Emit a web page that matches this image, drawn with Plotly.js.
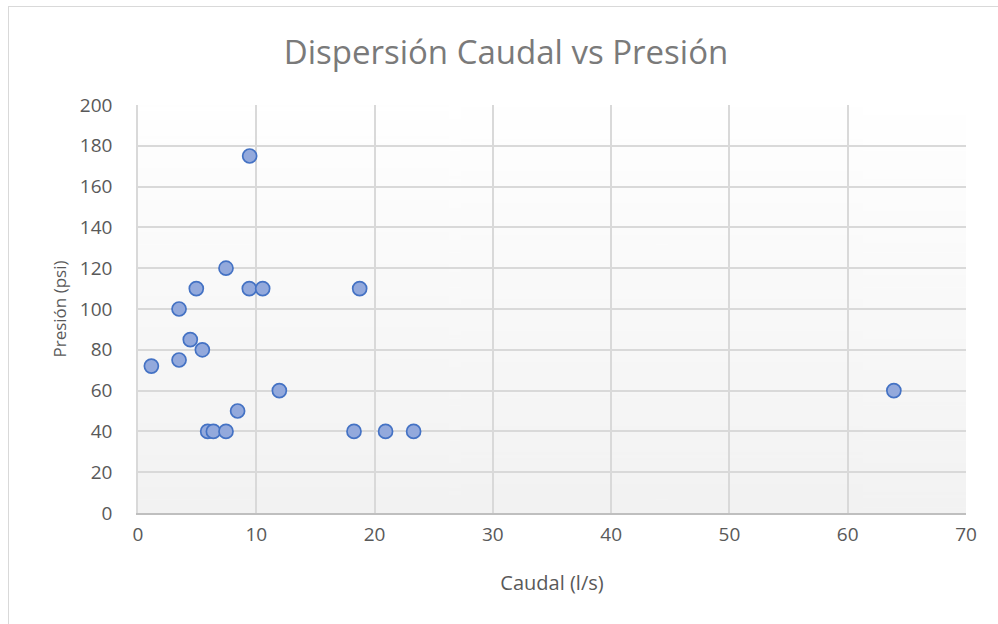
<!DOCTYPE html>
<html>
<head>
<meta charset="utf-8">
<script src="https://cdn.plot.ly/plotly-3.0.1.min.js"></script>
<style>
  html, body { margin: 0; padding: 0; background: #ffffff; }
  #frame { position: absolute; left: 8px; top: 6px; width: 1000px; height: 630px; border: 1px solid #d9d9d9; box-sizing: border-box; }
  #chart { position: absolute; left: 0; top: 0; width: 998px; height: 624px; }
</style>
</head>
<body>
<div id="frame"></div>
<div id="chart"></div>
<script>
var caudal = [9.44, 7.44, 4.93, 9.41, 10.54, 18.74, 3.47, 4.42, 5.44, 3.47, 1.13, 11.95, 8.42, 5.89, 6.37, 7.44, 18.26, 20.93, 23.3, 63.9];
var presion = [175, 120, 110, 110, 110, 110, 100, 85, 80, 75, 72, 60, 50, 40, 40, 40, 40, 40, 40, 60];
var xTicks = [0, 10, 20, 30, 40, 50, 60, 70];
var yTicks = [0, 20, 40, 60, 80, 100, 120, 140, 160, 180, 200];

function gradientURL() {
  var c = document.createElement('canvas');
  c.width = 4; c.height = 256;
  var g = c.getContext('2d');
  var grd = g.createLinearGradient(0, 0, 0, 256);
  grd.addColorStop(0, '#ffffff');
  grd.addColorStop(1, '#f2f2f2');
  g.fillStyle = grd;
  g.fillRect(0, 0, 4, 256);
  return c.toDataURL('image/png');
}

var font = '"Open Sans", "Noto Sans", sans-serif';

var trace = {
  x: caudal, y: presion, type: 'scatter', mode: 'markers',
  marker: { size: 14, color: '#93a9dc', line: { color: '#4472c4', width: 1.7 } },
  hoverinfo: 'x+y'
};

var layout = {
  width: 998, height: 624,
  margin: { l: 138, r: 32, t: 105, b: 111, pad: 0 },
  paper_bgcolor: 'rgba(0,0,0,0)',
  plot_bgcolor: 'rgba(0,0,0,0)',
  showlegend: false,
  title: { text: 'Dispersión Caudal vs Presión', x: 506/998, xref: 'container', xanchor: 'center', y: 1 - 52/624, yref: 'container', yanchor: 'middle',
           font: { family: font, size: 33, color: '#7a7a7a' } },
  images: [{ source: gradientURL(), xref: 'paper', yref: 'paper', x: 0, y: 1, sizex: 1, sizey: 1,
             xanchor: 'left', yanchor: 'top', sizing: 'stretch', layer: 'below' }],
  xaxis: {
    range: [0, 70], tickvals: xTicks, ticktext: xTicks.map(String),
    showgrid: true, gridcolor: '#d9d9d9', gridwidth: 1.5,
    zeroline: false, showline: true, linecolor: '#bfbfbf', linewidth: 1.5, mirror: false,
    ticks: '', ticklabelstandoff: 3,
    tickfont: { family: font, size: 19, color: '#595959' },
    title: { text: 'Caudal (l/s)', font: { family: font, size: 20, color: '#595959' }, standoff: 30 }
  },
  yaxis: {
    range: [0, 200], tickvals: yTicks, ticktext: yTicks.map(String),
    showgrid: true, gridcolor: '#d9d9d9', gridwidth: 1.5,
    zeroline: false, showline: true, linecolor: '#d9d9d9', linewidth: 1.5,
    ticks: '', ticklabelstandoff: 20,
    tickfont: { family: font, size: 19, color: '#595959' },
    title: { text: 'Presión (psi)', font: { family: font, size: 17, color: '#595959' }, standoff: 9 }
  }
};

Plotly.newPlot('chart', [trace], layout, { displayModeBar: false });
</script>
</body>
</html>
